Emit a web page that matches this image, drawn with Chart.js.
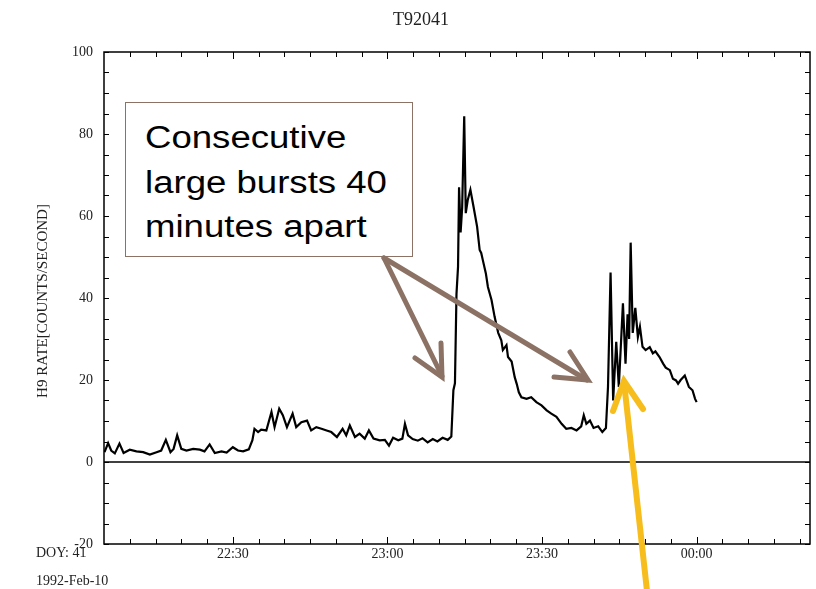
<!DOCTYPE html>
<html>
<head>
<meta charset="utf-8">
<script src="https://cdn.jsdelivr.net/npm/chart.js@4"></script>
<style>
  body { margin: 0; background: #fff; }
  #wrap { position: relative; width: 816px; height: 589px; }
  #note {
    position: absolute; left: 125px; top: 102px; width: 288px; height: 155px;
    border: 1.5px solid #8c7264; background: #fff; box-sizing: border-box;
  }
  #note div {
    position: absolute; left: 19px; top: 13px; white-space: nowrap;
    font-family: Arial, "Liberation Sans", sans-serif; font-size: 31px; line-height: 44.5px;
    color: #000; transform: scaleX(1.18); transform-origin: left top;
  }
  svg { position: absolute; left: 0; top: 0; }
</style>
</head>
<body>
<div id="wrap">
  <canvas id="grafico" width="816" height="589"></canvas>
  <div id="note"><div>Consecutive<br>large bursts 40<br>minutes apart</div></div>
  <svg width="816" height="589">
    <g stroke="#8c7264" stroke-width="5" stroke-linecap="round" fill="none">
      <line x1="384" y1="258" x2="442" y2="376"/>
      <polyline points="415,358 442,377 441,343"/>
      <line x1="384" y1="258" x2="587" y2="380"/>
      <polyline points="554,377 588,380 570,352"/>
    </g>
    <g stroke="#f6bd1c" stroke-width="6" stroke-linecap="round" fill="none">
      <line x1="648" y1="600" x2="624" y2="382"/>
      <polyline points="613,411 624,381 643,409"/>
    </g>
  </svg>
</div>
<script>
// minutos desde 22:00 e taxa H9 (contagens/s)
const tempos = [
  5.1, 5.8, 6.4, 7.1, 8.0, 8.8, 10.0, 11.3, 12.6, 13.9, 15.2, 16.1, 17.0, 17.9, 18.5, 19.2, 20.0, 21.0,
  22.3, 23.6, 24.5, 25.5, 26.5, 27.8, 28.8, 30.0, 31.0, 32.0, 33.1, 33.8, 34.2, 34.9,
  35.5, 36.5, 37.5, 38.1, 39.0, 39.7, 40.5, 41.6, 42.3, 43.3, 44.4, 45.2, 46.2, 47.2, 48.2, 49.1,
  50.2, 51.3, 52.0, 52.7, 53.7, 54.6, 55.6, 56.4, 57.3, 58.5, 59.5, 60.3, 61.1, 62.1, 62.9, 63.4, 64.0,
  64.9, 65.9, 66.8, 67.8, 68.8, 69.7, 70.7, 71.7, 72.4,
  72.8, 73.1, 73.4, 73.7, 73.9, 74.2, 74.5, 74.9, 75.2, 75.6, 76.1, 76.7, 77.4, 77.9, 78.2, 78.5,
  79.1, 79.5, 80.2, 80.8, 81.5, 82.1, 82.4, 83.1, 83.4, 84.1, 84.7, 85.1, 85.5, 86.0, 87.0, 87.9,
  88.9, 89.9, 90.9, 91.8, 92.8, 93.8, 94.7, 95.7, 96.7, 97.6, 98.1, 98.6, 99.3, 100.0, 100.9,
  101.7, 102.4, 102.8, 103.3, 103.8, 104.4, 104.9, 105.7, 106.2, 106.6, 106.9, 107.2, 107.6,
  108.1, 108.6, 109.0, 109.5, 110.1, 110.9, 111.5, 112.0, 112.8, 113.5, 114.0, 114.8, 115.4,
  116.0, 116.4, 116.9, 117.7, 118.5, 119.2, 119.7, 120.0
];
const taxas = [
  2.4, 4.6, 2.8, 2.1, 4.5, 2.2, 3.0, 2.6, 2.4, 1.8, 2.4, 2.8, 5.4, 2.4, 3.2, 6.5, 3.2, 2.8,
  3.2, 3.0, 2.6, 4.3, 2.2, 2.6, 2.3, 3.6, 2.8, 2.6, 3.1, 5.3, 8.1, 7.3,
  7.9, 7.7, 12.2, 8.5, 13.0, 11.4, 8.5, 11.8, 8.5, 9.7, 10.1, 7.7, 8.5, 8.1, 7.7, 7.3,
  6.1, 8.1, 6.5, 8.9, 6.1, 6.9, 5.7, 7.7, 5.7, 5.3, 5.4, 4.0, 5.9, 5.3, 5.7, 9.3, 6.5,
  5.6, 5.2, 5.8, 4.8, 5.6, 5.0, 5.9, 5.4, 6.2,
  17.5, 19.2, 41.0, 47.6, 67.0, 56.0, 62.0, 84.3, 60.7, 64.0, 66.4, 62.3, 57.4, 51.7, 51.0, 49.3,
  46.0, 42.7, 39.5, 35.4, 31.5, 29.7, 27.3, 28.5, 25.6, 24.5, 20.7, 19.0, 17.0, 15.8, 15.4, 15.8,
  14.6, 13.8, 12.6, 11.8, 11.0, 9.3, 8.1, 8.3, 7.7, 8.7, 11.4, 9.3, 10.1, 8.3, 8.7,
  7.3, 8.3, 18.3, 46.2, 15.0, 29.3, 18.3, 38.7, 24.0, 36.0, 30.0, 53.5, 31.5,
  37.6, 30.5, 33.0, 28.1, 27.3, 28.0, 26.5, 27.0, 25.6, 24.0, 23.0, 22.4, 20.3,
  19.9, 19.1, 20.0, 21.1, 18.3, 17.5, 15.4, 14.6
];
const rotulosX = [30, 60, 90, 120];
const rotulosY = [-20, 0, 20, 40, 60, 80, 100];

function formatarHora(m) {
  const h = (22 + Math.floor(m / 60)) % 24;
  const mm = m % 60;
  return String(h).padStart(2, '0') + ':' + String(mm).padStart(2, '0');
}

const serif = '"Liberation Serif", "DejaVu Serif", serif';

// moldura, marcas internas, linha do zero e textos fixos
const moldura = {
  id: 'moldura',
  afterDraw(chart) {
    const { ctx, chartArea: a, scales: { x, y } } = chart;
    ctx.save();
    ctx.strokeStyle = '#000';
    ctx.lineWidth = 1.5;
    ctx.strokeRect(a.left, a.top, a.right - a.left, a.bottom - a.top);
    ctx.lineWidth = 1;
    ctx.beginPath();
    for (let v = -20; v <= 100; v += 5) {
      const py = Math.round(y.getPixelForValue(v)) + 0.5;
      ctx.moveTo(a.left, py); ctx.lineTo(a.left + 5, py);
      ctx.moveTo(a.right, py); ctx.lineTo(a.right - 5, py);
    }
    for (let m = 10; m < 142; m += 5) {
      const px = Math.round(x.getPixelForValue(m)) + 0.5;
      const len = m % 30 === 0 ? 7 : 5;
      ctx.moveTo(px, a.top); ctx.lineTo(px, a.top + len);
      ctx.moveTo(px, a.bottom); ctx.lineTo(px, a.bottom - len);
    }
    ctx.stroke();
    ctx.lineWidth = 1.5;
    const y0 = y.getPixelForValue(0);
    ctx.beginPath(); ctx.moveTo(a.left, y0); ctx.lineTo(a.right, y0); ctx.stroke();

    ctx.fillStyle = '#222';
    ctx.font = '18px ' + serif;
    ctx.textAlign = 'center';
    ctx.textBaseline = 'alphabetic';
    ctx.fillText('T92041', 421, 25);
    ctx.font = '14px ' + serif;
    ctx.textAlign = 'left';
    ctx.fillText('DOY: 41', 36, 557);
    ctx.fillText('1992-Feb-10', 36, 585);
    ctx.font = '15px ' + serif;
    ctx.translate(43, 301);
    ctx.rotate(-Math.PI / 2);
    ctx.textAlign = 'center';
    ctx.textBaseline = 'middle';
    ctx.fillText('H9 RATE[COUNTS/SECOND]', 0, 0);
    ctx.restore();
  }
};

const ctx = document.getElementById('grafico').getContext('2d');
const grafico = new Chart(ctx, {
  type: 'line',
  data: {
    datasets: [{
      data: tempos.map((t, i) => ({ x: t, y: taxas[i] })),
      borderColor: '#000',
      borderWidth: 2.2,
      pointRadius: 0,
      tension: 0,
      fill: false
    }]
  },
  options: {
    responsive: false,
    animation: false,
    layout: { padding: { top: 52, right: 6, left: 0, bottom: 0 } },
    plugins: { legend: { display: false }, tooltip: { enabled: false } },
    scales: {
      x: {
        type: 'linear', min: 5, max: 142,
        grid: { display: false, drawTicks: false },
        border: { display: false },
        afterFit: s => { s.height = 45; },
        afterBuildTicks: s => { s.ticks = rotulosX.map(v => ({ value: v })); },
        ticks: {
          autoSkip: false, maxRotation: 0, padding: 2, color: '#222',
          font: { family: serif, size: 14 },
          callback: v => formatarHora(v)
        }
      },
      y: {
        min: -20, max: 100,
        grid: { display: false, drawTicks: false },
        border: { display: false },
        afterFit: s => { s.width = 104; },
        afterBuildTicks: s => { s.ticks = rotulosY.map(v => ({ value: v })); },
        ticks: { padding: 11, color: '#222', font: { family: serif, size: 14 } }
      }
    }
  },
  plugins: [moldura]
});
</script>
</body>
</html>
